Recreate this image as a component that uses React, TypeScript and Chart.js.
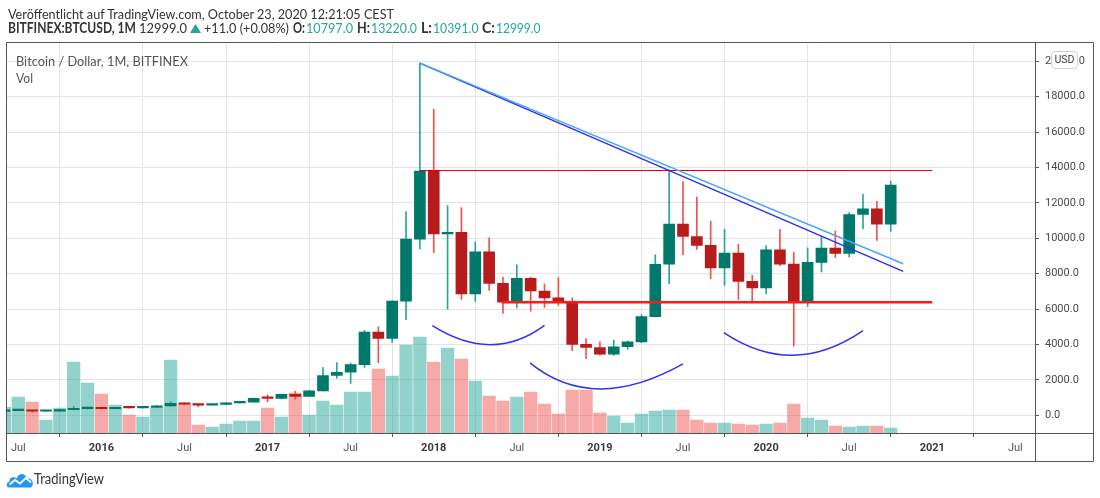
import React, { useEffect, useLayoutEffect, useRef } from "react";
import { Chart, registerables } from "chart.js";

Chart.register(...registerables);

// ---- Data (BITFINEX:BTCUSD, monthly, Jun 2015 .. Oct 2020) ----
const START_YEAR = 2015;
const START_MONTH = 6;

const OPEN = [
  223, 263, 284, 230, 236, 312, 377,
  430, 368, 437, 416, 448, 531, 673, 624, 575, 608, 700, 745,
  965, 960, 1190, 1070, 1380, 2250, 2430, 2860, 4700, 4340, 6450, 9950,
  13800, 10250, 10330, 6850, 9240, 7450, 6390, 7730, 7020, 6630, 6360, 4010,
  3830, 3450, 3870, 4150, 5570, 8530, 10800, 10100, 9600, 8320, 9160, 7560,
  7200, 9350, 8540, 6420, 8640, 9450, 9150, 11340, 11660, 10797,
];
const HIGH = [
  268, 315, 285, 243, 335, 500, 470,
  462, 445, 440, 468, 550, 780, 705, 626, 615, 720, 760, 975,
  1160, 1200, 1350, 1400, 2700, 2980, 2950, 4800, 5000, 6480, 11500, 19891,
  17300, 11850, 11730, 9800, 10030, 7800, 8500, 7800, 7420, 7780, 6630, 4330,
  4150, 4250, 4200, 5680, 9070, 13860, 13200, 12330, 10950, 10500, 9650, 7900,
  9580, 10500, 9200, 9460, 10070, 10400, 11450, 12480, 12080, 13220,
];
const LOW = [
  218, 253, 162, 225, 236, 300, 350,
  350, 365, 400, 412, 440, 520, 606, 480, 566, 605, 680, 740,
  750, 920, 890, 1060, 1380, 2100, 1800, 2700, 2970, 4120, 5400, 9400,
  9180, 6000, 6550, 6430, 7050, 5750, 6070, 5880, 6100, 6200, 3650, 3200,
  3400, 3380, 3720, 4100, 5550, 7440, 9070, 9370, 7720, 7330, 6550, 6450,
  6870, 8450, 3900, 6150, 8100, 8900, 8950, 10540, 9880, 10391,
];
const CLOSE = [
  263, 284, 230, 236, 312, 377, 430,
  368, 437, 416, 448, 531, 673, 624, 575, 608, 700, 745, 965,
  960, 1190, 1070, 1380, 2250, 2430, 2860, 4700, 4340, 6450, 9950, 13800,
  10250, 10330, 6850, 9240, 7450, 6390, 7730, 7020, 6630, 6360, 4010, 3830,
  3450, 3870, 4150, 5570, 8530, 10800, 10100, 9600, 8320, 9160, 7560, 7200,
  9350, 8540, 6420, 8640, 9450, 9150, 11340, 11660, 10797, 12999,
];
// volume, thousand BTC
const VOLUME = [
  390, 540, 465, 195, 375, 1065, 750,
  585, 420, 270, 240, 375, 1095, 435, 120, 90, 135, 180, 180,
  375, 240, 600, 270, 480, 420, 615, 615, 960, 855, 1320, 1440,
  1065, 1275, 1110, 780, 555, 480, 540, 615, 435, 285, 645, 645,
  300, 255, 150, 285, 330, 345, 345, 195, 150, 150, 135, 120,
  135, 150, 435, 225, 195, 105, 90, 105, 105, 75,
];

const MONTHS = OPEN.map((_, i) => {
  const t = START_MONTH - 1 + i;
  return `${START_YEAR + Math.floor(t / 12)}-${String((t % 12) + 1).padStart(2, "0")}`;
});

const X_TICK_POS = [0, 6, 12, 18, 24, 30, 36, 42, 48, 54, 60, 66, 72];
const X_TICK_LABELS = ["Jul", "2016", "Jul", "2017", "Jul", "2018", "Jul", "2019", "Jul", "2020", "Jul", "2021", "Jul"];
const Y_TICKS = [0, 2000, 4000, 6000, 8000, 10000, 12000, 14000, 16000, 18000, 20000];

// drawings (month index from Jul 2015, price)
const TREND_DARK = [{ x: 29, y: 19891 }, { x: 63.9, y: 8130 }];
const TREND_LIGHT = [{ x: 29, y: 19891 }, { x: 63.9, y: 8560 }];
const RESISTANCE = [{ x: 29, y: 13825 }, { x: 66, y: 13825 }];
const NECKLINE = [{ x: 34.9, y: 6380 }, { x: 66, y: 6380 }];
const ARCS = [
  [[29.9, 5060], [34.1, 3990], [38.0, 5080]],
  [[36.95, 2960], [42.0, 1490], [48.0, 2900]],
  [[50.95, 4670], [55.95, 3390], [61.0, 4780]],
];

const X_MIN = -0.816;
const X_MAX = 73.42;
const Y_MIN = -1000;
const Y_MAX = 21000;
const VOL_AXIS_MAX = 5850;

function monthToIndex(s: string) {
  const [y, m] = s.split("-").map(Number);
  return (y - 2015) * 12 + (m - 7);
}

const UP_BODY = "#00796b";
const DOWN_BODY = "#b71c1c";
const UP_WICK = "#26a69a";
const DOWN_WICK = "#ef5350";
const UP_VOL = "rgba(38,166,154,0.5)";
const DOWN_VOL = "rgba(239,83,80,0.5)";
const TEAL = "#26a69a";

const framePlugin = {
  id: "frame",
  afterDraw(chart: any) {
    const ctx = chart.ctx;
    const a = chart.chartArea;
    ctx.save();
    ctx.strokeStyle = "#555";
    ctx.lineWidth = 1;
    ctx.beginPath();
    ctx.rect(6.5, 42.5, 1087, 419);
    ctx.moveTo(a.right + 0.5, 42.5);
    ctx.lineTo(a.right + 0.5, 461.5);
    ctx.moveTo(6.5, a.bottom + 0.5);
    ctx.lineTo(1093.5, a.bottom + 0.5);
    ctx.stroke();
    ctx.restore();
  },
};

const arcsPlugin = {
  id: "arcs",
  afterDatasetsDraw(chart: any) {
    const ctx = chart.ctx;
    const xs = chart.scales.x;
    const ys = chart.scales.y;
    const a = chart.chartArea;
    ctx.save();
    ctx.beginPath();
    ctx.rect(a.left, a.top, a.right - a.left, a.bottom - a.top);
    ctx.clip();
    ctx.strokeStyle = "#3232f0";
    ctx.lineWidth = 1.5;
    for (const arc of ARCS) {
      const p = arc.map(([x, y]) => [xs.getPixelForValue(x), ys.getPixelForValue(y)]);
      const cx = 2 * p[1][0] - (p[0][0] + p[2][0]) / 2;
      const cy = 2 * p[1][1] - (p[0][1] + p[2][1]) / 2;
      ctx.beginPath();
      ctx.moveTo(p[0][0], p[0][1]);
      ctx.quadraticCurveTo(cx, cy, p[2][0], p[2][1]);
      ctx.stroke();
    }
    ctx.restore();
  },
};

function lineDs(data: any[], color: string, width: number) {
  return {
    type: "line",
    data,
    borderColor: color,
    borderWidth: width,
    pointRadius: 0,
    fill: false,
    yAxisID: "y",
    order: 1,
    tension: 0,
  };
}

// text pieces: text, left, top, target width, size, bold, color
const TEXTS = [
  { t: "Veröffentlicht auf TradingView.com, October 23, 2020 12:21:05 CEST", l: 8, top: 5, w: 386, s: 14, b: false, c: "#333" },
  { t: "BITFINEX:BTCUSD, 1M", l: 8, top: 18.5, w: 128, s: 14.5, b: true, c: "#333" },
  { t: "12999.0", l: 139, top: 18.5, w: 48, s: 14, b: false, c: "#333" },
  { t: "+11.0 (+0.08%)", l: 204, top: 18.5, w: 85, s: 14, b: false, c: "#333" },
  { t: "O:", l: 293, top: 18.5, w: 12, s: 14.5, b: true, c: "#333" },
  { t: "10797.0", l: 306, top: 18.5, w: 47, s: 14, b: false, c: TEAL },
  { t: "H:", l: 357, top: 18.5, w: 13, s: 14.5, b: true, c: "#333" },
  { t: "13220.0", l: 371, top: 18.5, w: 46, s: 14, b: false, c: TEAL },
  { t: "L:", l: 421, top: 18.5, w: 11, s: 14.5, b: true, c: "#333" },
  { t: "10391.0", l: 433, top: 18.5, w: 45.5, s: 14, b: false, c: TEAL },
  { t: "C:", l: 482, top: 18.5, w: 13, s: 14.5, b: true, c: "#333" },
  { t: "12999.0", l: 496, top: 18.5, w: 44.5, s: 14, b: false, c: TEAL },
  { t: "Bitcoin / Dollar, 1M, BITFINEX", l: 16, top: 52, w: 172, s: 13, b: false, c: "#555" },
  { t: "Vol", l: 16, top: 69, w: 17, s: 13, b: false, c: "#555" },
  { t: "TradingView", l: 34, top: 470, w: 70, s: 14.5, b: false, c: "#333" },
];

function FitText(props: { t: string; l: number; top: number; w: number; s: number; b: boolean; c: string }) {
  const r = useRef<HTMLSpanElement | null>(null);
  useLayoutEffect(() => {
    const fit = () => {
      const el = r.current;
      if (!el) return;
      el.style.transform = "none";
      const w = el.getBoundingClientRect().width;
      if (w > 0) el.style.transform = `scaleX(${props.w / w})`;
    };
    fit();
    if ((document as any).fonts && (document as any).fonts.ready) (document as any).fonts.ready.then(fit);
  }, []);
  return (
    <span
      ref={r}
      style={{
        position: "absolute",
        left: props.l,
        top: props.top,
        fontSize: props.s,
        lineHeight: "18px",
        fontWeight: props.b ? 700 : 400,
        color: props.c,
        whiteSpace: "nowrap",
        display: "inline-block",
        transformOrigin: "0 0",
      }}
    >
      {props.t}
    </span>
  );
}

export default function App() {
  const ref = useRef<HTMLCanvasElement | null>(null);

  useEffect(() => {
    if (!ref.current) return;
    const xs = MONTHS.map(monthToIndex);
    const up = CLOSE.map((c, i) => c >= OPEN[i]);
    const chart = new Chart(ref.current, {
      type: "bar",
      data: {
        datasets: [
          {
            type: "bar",
            data: xs.map((x, i) => ({ x, y: VOLUME[i] })),
            backgroundColor: up.map((u) => (u ? UP_VOL : DOWN_VOL)),
            barThickness: 12.6,
            grouped: false,
            yAxisID: "yv",
            order: 10,
            borderWidth: 0,
          },
          {
            type: "bar",
            data: xs.map((x, i) => ({ x, y: [LOW[i], HIGH[i]] })),
            backgroundColor: up.map((u) => (u ? UP_WICK : DOWN_WICK)),
            barThickness: 1,
            grouped: false,
            yAxisID: "y",
            order: 5,
            borderWidth: 0,
          },
          {
            type: "bar",
            data: xs.map((x, i) => ({ x, y: [OPEN[i], CLOSE[i]] })),
            backgroundColor: up.map((u) => (u ? UP_BODY : DOWN_BODY)),
            barThickness: 11,
            minBarLength: 1.5,
            grouped: false,
            yAxisID: "y",
            order: 4,
            borderWidth: 0,
          },
          lineDs(TREND_LIGHT, "#4aa8f0", 1.5),
          lineDs(TREND_DARK, "#2f2ff0", 1.5),
          lineDs(RESISTANCE, "#e00000", 1),
          lineDs(NECKLINE, "#ff1a1a", 2.5),
        ] as any,
      },
      options: {
        animation: false,
        responsive: false,
        events: [],
        layout: { padding: { left: 7, right: 7, top: 43.5, bottom: 37 } },
        plugins: { legend: { display: false }, tooltip: { enabled: false } },
        scales: {
          x: {
            type: "linear",
            min: X_MIN,
            max: X_MAX,
            offset: false,
            afterBuildTicks: (s: any) => {
              s.ticks = X_TICK_POS.map((v) => ({ value: v }));
            },
            afterFit: (s: any) => {
              s.height = 28;
            },
            border: { display: false },
            grid: { color: "#e4e4e4", tickColor: "#555", tickLength: 4, lineWidth: 1 },
            ticks: {
              autoSkip: false,
              maxRotation: 0,
              padding: 5,
              callback: (v: any) => X_TICK_LABELS[X_TICK_POS.indexOf(Number(v))] ?? "",
              font: (c: any) => ({
                family: "Roboto",
                size: 11,
                weight: c.tick && c.tick.value % 12 === 6 ? "bold" : "normal",
              }),
              color: (c: any) => (c.tick && c.tick.value % 12 === 6 ? "#3a3a3a" : "#555"),
            },
          },
          y: {
            type: "linear",
            position: "right",
            min: Y_MIN,
            max: Y_MAX,
            afterBuildTicks: (s: any) => {
              s.ticks = Y_TICKS.map((v) => ({ value: v }));
            },
            afterFit: (s: any) => {
              s.width = 58;
            },
            border: { display: false },
            grid: { color: "#e4e4e4", tickColor: "#555", tickLength: 4 },
            ticks: {
              padding: 6,
              callback: (v: any) => Number(v).toFixed(1),
              font: { family: "Roboto", size: 11 },
              color: "#4a4a4a",
            },
          },
          yv: {
            type: "linear",
            display: false,
            min: 0,
            max: VOL_AXIS_MAX,
          },
        },
      } as any,
      plugins: [arcsPlugin, framePlugin],
    });
    return () => chart.destroy();
  }, []);

  return (
    <div
      style={{
        position: "fixed",
        left: 0,
        top: 0,
        width: 1100,
        height: 498,
        background: "#fff",
        fontFamily: "Lato, 'Noto Sans', sans-serif",
        color: "#333",
        overflow: "hidden",
      }}
    >
      <canvas ref={ref} width={1100} height={498} style={{ position: "absolute", left: 0, top: 0 }} />
      {TEXTS.map((p, i) => (
        <FitText key={i} {...p} />
      ))}
      <svg style={{ position: "absolute", left: 190, top: 24 }} width={11} height={9} viewBox="0 0 11 9">
        <polygon points="5.5,0 11,9 0,9" fill={TEAL} />
      </svg>
      <div
        style={{
          position: "absolute",
          left: 1051,
          top: 51,
          width: 25,
          height: 16,
          border: "1px solid #cfcfcf",
          borderRadius: 4,
          background: "#fff",
          fontFamily: "Roboto, sans-serif",
          fontSize: 10.5,
          lineHeight: "16px",
          textAlign: "center",
          color: "#444",
        }}
      >
        USD
      </div>
      <svg style={{ position: "absolute", left: 6, top: 471 }} width={28} height={17} viewBox="0 0 28 17">
        <path
          d="M3 16.5 C0 16.5 0 11 3.5 10.5 C3 6 8.5 5 10.5 7.5 C12.5 1.5 19.5 1.5 20.5 7.5 C24.5 6.5 28 10.5 26.5 14.5 C26 16 25 16.5 24 16.5 Z"
          fill="#2196f3"
        />
        <polyline points="3.5,13.5 9,9 14,12.5 20,7 25,11.5" stroke="#fff" strokeWidth={1.8} fill="none" />
      </svg>
    </div>
  );
}
